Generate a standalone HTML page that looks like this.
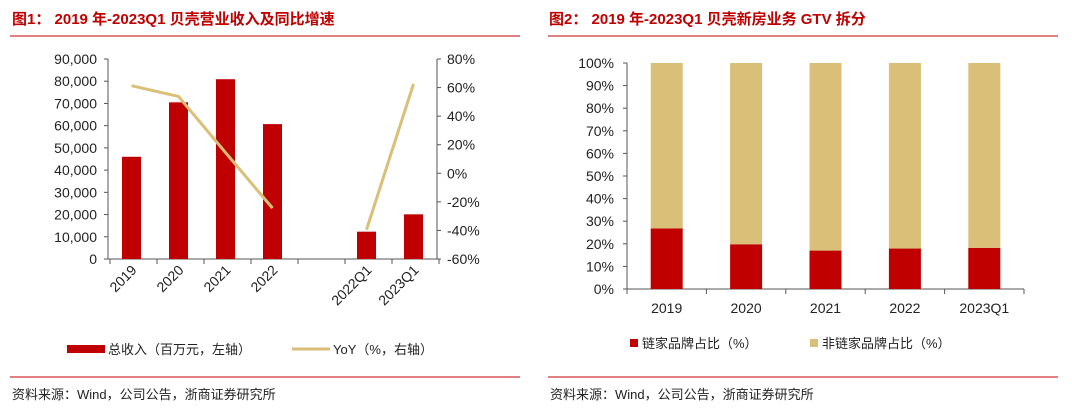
<!DOCTYPE html>
<html><head><meta charset="utf-8"><style>
body{margin:0;width:1072px;height:410px;background:#fff;overflow:hidden;font-family:"Liberation Sans","Noto Sans CJK SC",sans-serif}
svg{position:absolute;left:0;top:0}
</style></head><body>
<svg id="s" width="1072" height="410" font-family="Liberation Sans, Noto Sans CJK SC, sans-serif">
<text x="12" y="24" fill="#C00000" font-size="15" font-weight="bold">图1：  2019 年-2023Q1 贝壳营业收入及同比增速</text>
<line x1="10" y1="36" x2="520" y2="36" stroke="#C00000" stroke-width="1"/>
<text x="549" y="24" fill="#C00000" font-size="15" font-weight="bold">图2：  2019 年-2023Q1 贝壳新房业务 GTV 拆分</text>
<line x1="548" y1="36" x2="1058" y2="36" stroke="#C00000" stroke-width="1"/>
<line x1="10" y1="377" x2="520" y2="377" stroke="#C00000"/>
<line x1="548" y1="377" x2="1058" y2="377" stroke="#C00000"/>
<text x="12" y="399" font-size="13" fill="#222">资料来源：Wind，公司公告，浙商证券研究所</text>
<text x="550" y="399" font-size="13" fill="#222">资料来源：Wind，公司公告，浙商证券研究所</text>
<g id="c1"></g><g id="c2"></g>
<rect x="67" y="345" width="38" height="8" fill="#C00000"/>
<text x="108" y="354" font-size="13" fill="#222">总收入（百万元，左轴）</text>
<line x1="292" y1="349" x2="330" y2="349" stroke="#D9BF77" stroke-width="3"/>
<text x="333" y="354" font-size="13" fill="#222">YoY（%，右轴）</text>
<rect x="630" y="339" width="8" height="8" fill="#C00000"/>
<text x="642" y="348" font-size="13" fill="#222">链家品牌占比（%）</text>
<rect x="810" y="339" width="8" height="8" fill="#D9BF77"/>
<text x="822" y="348" font-size="13" fill="#222">非链家品牌占比（%）</text>
</svg>
<script>
const cats1=["2019","2020","2021","2022","","2022Q1","2023Q1"];
const revenue=[46000,70500,80900,60700,null,12300,20100];
const yoy=[61.3,53.8,14.5,-24.4,null,-39.5,62.5];
const leftTicks=[0,10000,20000,30000,40000,50000,60000,70000,80000,90000];
const rightTicks=[-60,-40,-20,0,20,40,60,80];
const cats2=["2019","2020","2021","2022","2023Q1"];
const lianjia=[26.8,19.8,17.0,17.9,18.2];
const nonLianjia=[73.2,80.2,83.0,82.1,81.8];
const pctTicks=[0,10,20,30,40,50,60,70,80,90,100];

const NS="http://www.w3.org/2000/svg";
function mk(p,t,a,txt){const e=document.createElementNS(NS,t);for(const k in a)e.setAttribute(k,a[k]);if(txt!=null)e.textContent=txt;p.appendChild(e);return e;}
// chart1
const g1=document.getElementById('c1');
const X0=108,X1=437,Y0=259,Y1=59,cw=(X1-X0)/cats1.length;
const yL=v=>Y0-(v/90000)*(Y0-Y1);
const yR=v=>Y0-((v+60)/140)*(Y0-Y1);
const cx=i=>X0+cw*(i+0.5);
let e;
e=mk(g1,'line',{x1:X0,y1:Y1,x2:X0,y2:Y0,stroke:'#555'});


e=mk(g1,'line',{x1:X1,y1:Y1,x2:X1,y2:Y0,stroke:'#555'});


e=mk(g1,'line',{x1:X0-4,y1:Y0,x2:X1,y2:Y0,stroke:'#555'});


leftTicks.forEach(v=>{const y=yL(v);mk(g1,'line',{x1:X0-4,y1:y,x2:X0,y2:y,stroke:'#555'});
 e=mk(g1,'text',{x:X0-11,y:y+5,'font-size':14,'text-anchor':'end',fill:'#222'},v.toLocaleString('en-US'));
 
 });
rightTicks.forEach(v=>{const y=yR(v);mk(g1,'line',{x1:X1,y1:y,x2:X1+4,y2:y,stroke:'#555'});
 e=mk(g1,'text',{x:X1+10,y:y+5,'font-size':14,fill:'#222'},v+'%');
 
 });
for(let i=0;i<=cats1.length;i++)mk(g1,'line',{x1:X0+cw*i+2,y1:Y0,x2:X0+cw*i+2,y2:Y0+5,stroke:'#555'});
cats1.forEach((c,i)=>{
 if(revenue[i]!=null){e=mk(g1,'rect',{x:cx(i)-9.5,y:yL(revenue[i]),width:19,height:Y0-yL(revenue[i]),fill:'#C00000'});
 
 }
 if(c){const x=cx(i)+6,y=Y0+12;e=mk(g1,'text',{x:x,y:y,'font-size':14,'text-anchor':'end',fill:'#222',transform:`rotate(-45 ${x} ${y})`},c);
 
 }
});
let segs=[],cur=[];
yoy.forEach((v,i)=>{if(v==null){if(cur.length)segs.push(cur);cur=[];}else cur.push(cx(i)+','+yR(v));});
if(cur.length)segs.push(cur);
segs.forEach(s=>{e=mk(g1,'polyline',{points:s.join(' '),fill:'none',stroke:'#D9BF77','stroke-width':3});
 
 });
// chart2
const g2=document.getElementById('c2');
const A0=627,A1=1024,B0=289,B1=63,cw2=(A1-A0)/cats2.length;
const yP=v=>B0-(v/100)*(B0-B1);
e=mk(g2,'line',{x1:A0,y1:B1,x2:A0,y2:B0,stroke:'#555'});


e=mk(g2,'line',{x1:A0-4,y1:B0,x2:A1,y2:B0,stroke:'#555'});


pctTicks.forEach(v=>{const y=yP(v);mk(g2,'line',{x1:A0-4,y1:y,x2:A0,y2:y,stroke:'#555'});
 e=mk(g2,'text',{x:A0-13,y:y+5,'font-size':14,'text-anchor':'end',fill:'#222'},v+'%');
 
 });
for(let i=0;i<=cats2.length;i++)mk(g2,'line',{x1:A0+cw2*i,y1:B0,x2:A0+cw2*i,y2:B0+5,stroke:'#555'});
cats2.forEach((c,i)=>{const x=A0+cw2*(i+0.5);
 e=mk(g2,'rect',{x:x-16,y:yP(lianjia[i]),width:32,height:B0-yP(lianjia[i]),fill:'#C00000'});
 
 
 e=mk(g2,'rect',{x:x-16,y:yP(lianjia[i]+nonLianjia[i]),width:32,height:yP(lianjia[i])-yP(lianjia[i]+nonLianjia[i]),fill:'#D9BF77'});
 
 
 e=mk(g2,'text',{x:x,y:B0+24,'font-size':14,'text-anchor':'middle',fill:'#222'},c);
 
 
});
</script>
</body></html>
